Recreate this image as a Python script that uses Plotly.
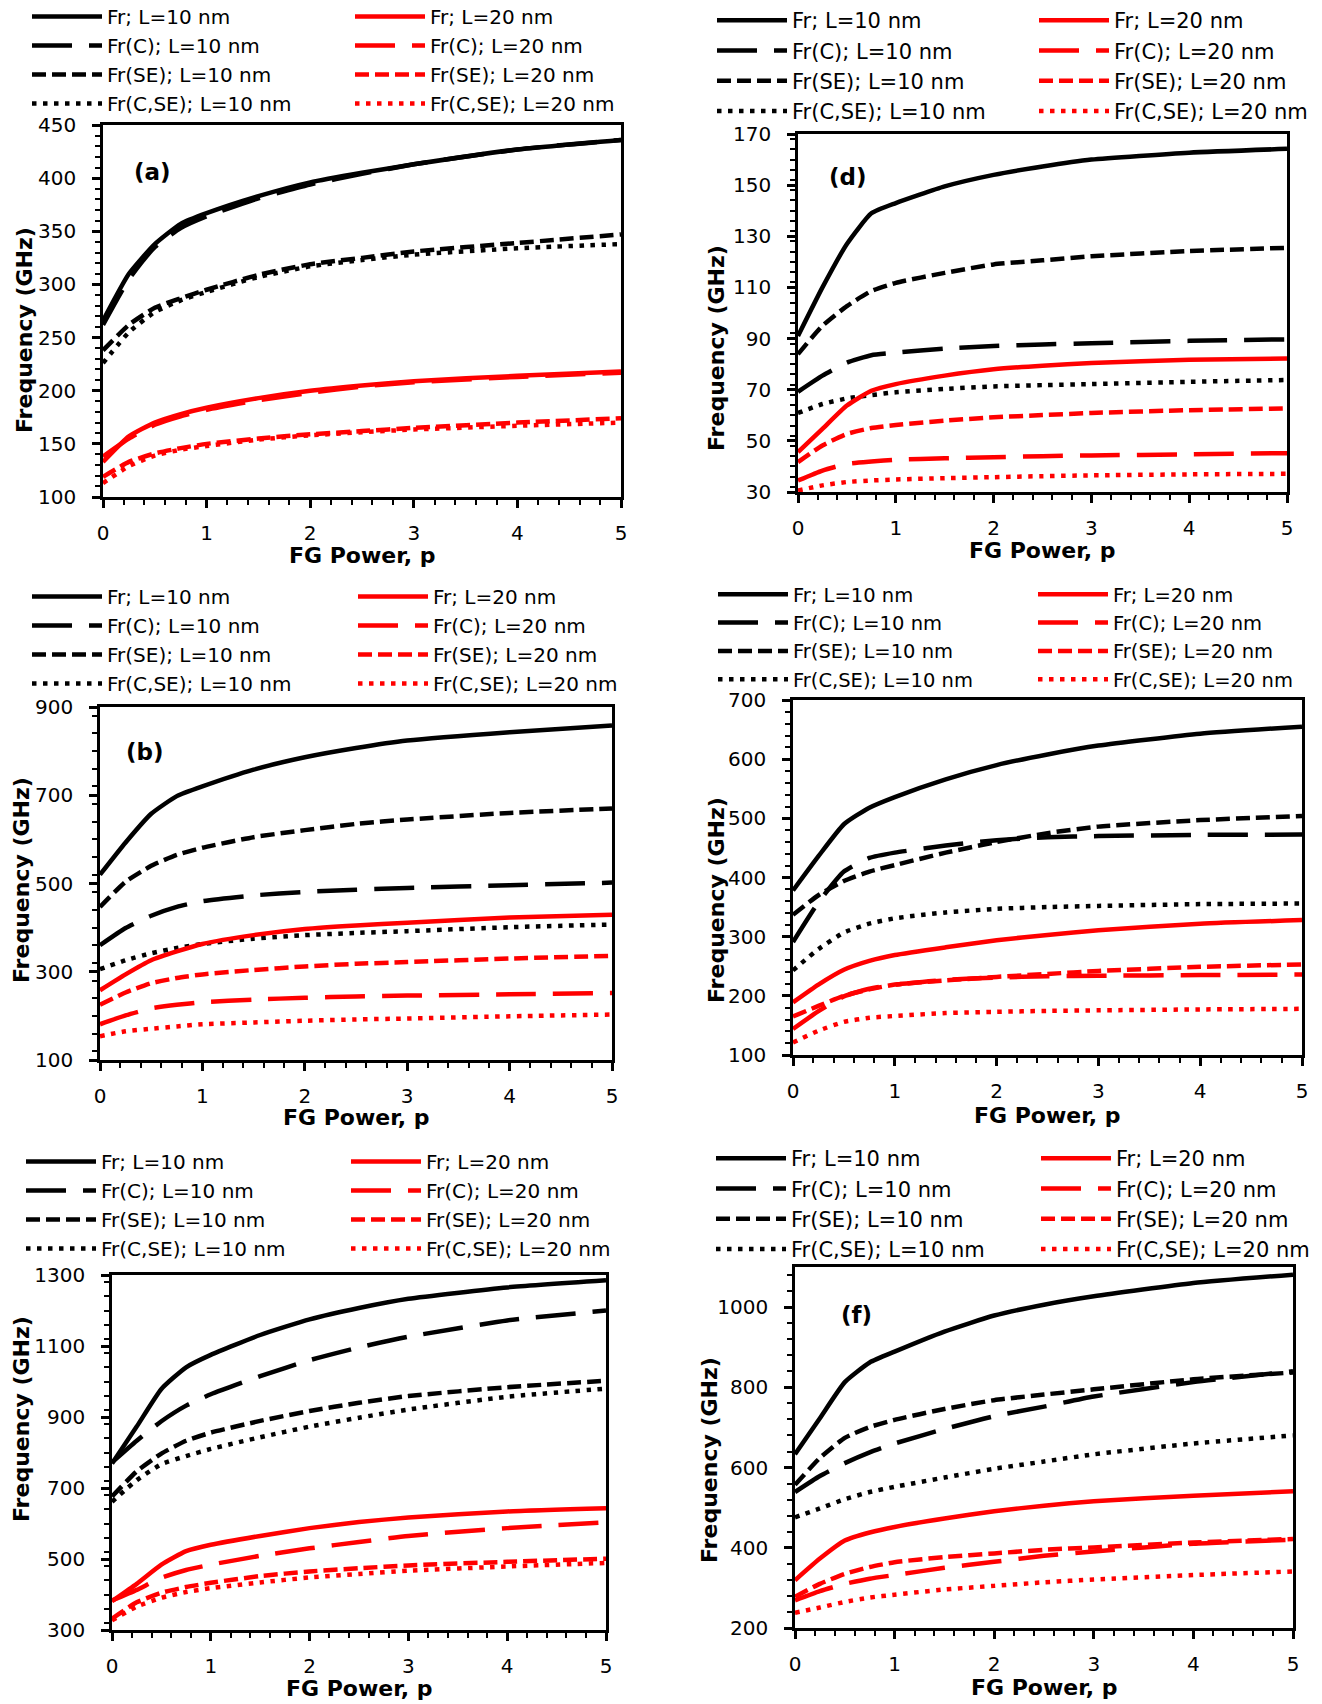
import plotly.graph_objects as go

W, H = 1322, 1704
FONT = "DejaVu Sans, Verdana, sans-serif"

# FG power index values (x)
p_vals = [0, 0.25, 0.5, 0.75, 1, 1.5, 2, 2.5, 3, 4, 5]

series_names = ["Fr", "Fr(C)", "Fr(SE)", "Fr(C,SE)"]
lengths = ["L=10 nm", "L=20 nm"]

# ---- panel (a) ----
a_fr_10 = [266, 310, 338, 357, 367, 383, 396, 405, 413, 427, 436]
a_frc_10 = [262, 305, 335, 353, 364, 381, 394, 404, 413, 427, 436]
a_frse_10 = [238, 262, 278, 287, 295, 309, 319, 325, 331, 339, 347]
a_frcse_10 = [226, 255, 274, 285, 293, 307, 317, 323, 328, 334, 338]
a_fr_20 = [133, 157, 170, 178, 184, 193, 200, 205, 209, 214, 218]
a_frc_20 = [138, 155, 168, 176, 182, 191, 198, 204, 208, 213, 217]
a_frse_20 = [119, 133, 141, 146, 150, 155, 159, 162, 165, 170, 174]
a_frcse_20 = [113, 129, 139, 144.5, 148, 154, 158, 161, 163.5, 167, 170]

# ---- panel (d) ----
d_fr_10 = [91, 110, 127, 139, 143, 149.5, 154, 157.3, 160, 162.7, 164.2]
d_frc_10 = [69.2, 75.5, 80.6, 83.5, 84.5, 86.1, 87.1, 87.7, 88.2, 89.1, 89.7]
d_frse_10 = [83.9, 95, 102.7, 108.6, 111.8, 115.7, 119, 120.6, 122.2, 124.2, 125.5]
d_frcse_10 = [60.9, 64.4, 66.6, 67.9, 69, 70.3, 71.3, 71.8, 72.2, 73.1, 73.8]
d_fr_20 = [45.6, 54.7, 63.8, 69.6, 72.2, 75.5, 78, 79.4, 80.4, 81.7, 82.2]
d_frc_20 = [34.5, 38.4, 41, 41.9, 42.6, 43.2, 43.6, 44, 44.3, 44.7, 45.2]
d_frse_20 = [41.7, 48.2, 52.7, 55, 56.2, 57.9, 59.2, 60.1, 60.9, 62, 62.7]
d_frcse_20 = [30.6, 32.6, 33.9, 34.5, 34.9, 35.4, 35.8, 36.2, 36.5, 36.9, 37.1]

# ---- panel (b) ----
b_fr_10 = [520, 593, 658, 698, 720, 758, 786, 807, 824, 843, 858]
b_frc_10 = [360, 399, 427, 447, 460, 473, 481, 486, 490, 496, 502]
b_frse_10 = [447, 504, 540, 565, 581, 605, 621, 635, 645, 660, 670]
b_frcse_10 = [306, 326, 342, 354, 363, 375, 383, 388, 392, 401, 407]
b_fr_20 = [258, 294, 326, 346, 363, 383, 397, 405, 411, 423, 429]
b_frc_20 = [181, 201, 217, 225, 231, 237, 241, 244, 246, 249, 252]
b_frse_20 = [225, 253, 274, 286, 294, 304, 312, 318, 322, 330, 336]
b_frcse_20 = [154, 165, 171, 176, 181, 185, 189, 192, 194, 199, 203]

# ---- panel (e) (middle right) ----
e_fr_10 = [378, 436, 490, 518, 536, 566, 590, 608, 623, 643, 655]
e_frc_10 = [291, 358, 410, 433, 442, 454, 463, 468, 470, 472, 472.5]
e_frse_10 = [337, 370, 394, 410, 421, 442, 460, 475, 486, 497, 504]
e_frcse_10 = [243, 279, 307, 322, 331, 341, 347, 350, 352, 355, 356]
e_fr_20 = [189, 219, 244, 259, 269, 282, 294, 303, 311, 322, 328]
e_frc_20 = [144, 174, 199, 212, 219, 227, 231, 233, 234, 235, 236]
e_frse_20 = [165, 183, 200, 211, 219, 226, 232, 237, 242, 249, 253]
e_frcse_20 = [121, 141, 156, 163, 166, 171, 173, 174.5, 175.5, 177, 178]

# ---- panel (c) (bottom left) ----
c_fr_10 = [769, 873, 979, 1040, 1075, 1131, 1175, 1207, 1233, 1265, 1285]
c_frc_10 = [772, 833, 888, 932, 964, 1015, 1060, 1096, 1126, 1172, 1200]
c_frse_10 = [676, 747, 797, 833, 856, 889, 917, 940, 959, 984, 1002]
c_frcse_10 = [661, 722, 767, 790, 810, 843, 873, 898, 921, 957, 980]
c_fr_20 = [381, 430, 484, 522, 540, 565, 587, 604, 617, 634, 643]
c_frc_20 = [383, 413, 447, 469, 484, 509, 530, 548, 565, 587, 603]
c_frse_20 = [332, 378, 405, 421, 433, 452, 465, 474, 482, 492, 501]
c_frcse_20 = [327, 366, 391, 407, 418, 434, 448, 458, 467, 479, 489]

# ---- panel (f) ----
f_fr_10 = [633, 723, 813, 862, 889, 939, 979, 1006, 1027, 1060, 1081]
f_frc_10 = [539, 579, 611, 638, 660, 696, 728, 752, 777, 813, 840]
f_frse_10 = [557, 624, 674, 701, 719, 746, 768, 782, 795, 820, 837]
f_frcse_10 = [476, 498, 521, 539, 552, 575, 597, 615, 633, 660, 680]
f_fr_20 = [319, 373, 418, 438, 452, 473, 491, 505, 516, 530, 541]
f_frc_20 = [269, 292, 310, 323, 332, 350, 365, 380, 391, 410, 420]
f_frse_20 = [278, 310, 335, 352, 364, 377, 386, 395, 401, 413, 422]
f_frcse_20 = [238, 251, 265, 276, 283, 296, 305, 314, 321, 332, 341]

# y-axis ranges, major and minor steps
a_yrange, a_dtick, a_minor = [100, 450], 50, 10
d_yrange, d_dtick, d_minor = [30, 170], 20, 4
b_yrange, b_dtick, b_minor = [100, 900], 200, 40
e_yrange, e_dtick, e_minor = [100, 700], 100, 20
c_yrange, c_dtick, c_minor = [300, 1300], 200, 40
f_yrange, f_dtick, f_minor = [200, 1100], 200, 40

panel_labels = {"a": "(a)", "d": "(d)", "b": "(b)", "f": "(f)"}
x_title = "FG Power, p"
y_title = "Frequency (GHz)"

# ---------------- layout geometry (pixels) ----------------
panels = [
    dict(key="a", box=(103, 621, 125, 497),
         data=[a_fr_10, a_frc_10, a_frse_10, a_frcse_10, a_fr_20, a_frc_20, a_frse_20, a_frcse_20],
         y=(a_yrange, a_dtick, a_minor), leg=(29, 352, 16, 20), yt=(25, 330), xt=555, lab=(152, 172)),
    dict(key="d", box=(798, 1287, 134, 492),
         data=[d_fr_10, d_frc_10, d_frse_10, d_frcse_10, d_fr_20, d_frc_20, d_frse_20, d_frcse_20],
         y=(d_yrange, d_dtick, d_minor), leg=(714, 1036, 19, 21), yt=(717, 348), xt=551, lab=(848, 177)),
    dict(key="b", box=(100, 612, 707, 1060),
         data=[b_fr_10, b_frc_10, b_frse_10, b_frcse_10, b_fr_20, b_frc_20, b_frse_20, b_frcse_20],
         y=(b_yrange, b_dtick, b_minor), leg=(29, 355, 596, 20), yt=(21, 880), xt=1117, lab=(145, 752)),
    dict(key="e", box=(793, 1302, 700, 1055),
         data=[e_fr_10, e_frc_10, e_frse_10, e_frcse_10, e_fr_20, e_frc_20, e_frse_20, e_frcse_20],
         y=(e_yrange, e_dtick, e_minor), leg=(715, 1035, 594, 19.5), yt=(717, 900), xt=1115, lab=None),
    dict(key="c", box=(112, 606, 1275, 1630),
         data=[c_fr_10, c_frc_10, c_frse_10, c_frcse_10, c_fr_20, c_frc_20, c_frse_20, c_frcse_20],
         y=(c_yrange, c_dtick, c_minor), leg=(23, 348, 1161, 20), yt=(21, 1419), xt=1688, lab=None),
    dict(key="f", box=(795, 1293, 1267, 1628),
         data=[f_fr_10, f_frc_10, f_frse_10, f_frcse_10, f_fr_20, f_frc_20, f_frse_20, f_frcse_20],
         y=(f_yrange, f_dtick, f_minor), leg=(713, 1038, 1157, 21), yt=(709, 1460), xt=1687, lab=(856, 1315)),
]

colors = ["#000000", "#ff0000"]
dashes = ["solid", "40px,17px", "14px,6px", "4.5px,6.5px"]
LW = 4.5

fig = go.Figure()
layout = dict(
    width=W, height=H, margin=dict(l=0, r=0, t=0, b=0, autoexpand=False),
    paper_bgcolor="white", plot_bgcolor="white",
    font=dict(family=FONT, color="black"),
    annotations=[],
)

legend_count = 0
for i, pnl in enumerate(panels):
    n = i + 1
    xa = "xaxis" if n == 1 else f"xaxis{n}"
    ya = "yaxis" if n == 1 else f"yaxis{n}"
    xr = "x" if n == 1 else f"x{n}"
    yr = "y" if n == 1 else f"y{n}"
    l, r, t, b = pnl["box"]
    yrng, ydt, ymn = pnl["y"]
    blx, rlx, row1, lfs = pnl["leg"]

    leg_ids = []
    for col, lx in enumerate([blx, rlx]):
        legend_count += 1
        lid = "legend" if legend_count == 1 else f"legend{legend_count}"
        leg_ids.append(lid)
        layout[lid] = dict(
            x=(lx - 2) / W, y=1 - (row1 - 19) / H, xanchor="left", yanchor="top",
            orientation="v", bgcolor="rgba(0,0,0,0)", borderwidth=0,
            itemwidth=70, tracegroupgap=0, traceorder="normal",
            font=dict(family=FONT, size=lfs, color="black"),
        )

    for k, ys in enumerate(pnl["data"]):
        col = k // 4
        s = k % 4
        fig.add_trace(go.Scatter(
            x=p_vals, y=ys, mode="lines",
            name=f"{series_names[s]}; {lengths[col]}",
            line=dict(color=colors[col], width=LW, dash=dashes[s], shape="spline", smoothing=0.5),
            xaxis=xr, yaxis=yr, legend=leg_ids[col], showlegend=True,
        ))

    common = dict(showline=True, linewidth=2.5, linecolor="black", mirror=True,
                  ticks="outside", ticklen=8, tickwidth=2.5, tickcolor="black",
                  showgrid=False, zeroline=False, automargin=False,
                  tickfont=dict(family=FONT, size=20, color="black"))
    layout[xa] = dict(common, domain=[l / W, r / W], range=[0, 5], dtick=1, tick0=0,
                      anchor=yr, ticklabelstandoff=8,
                      minor=dict(dtick=0.2, ticks="outside", ticklen=5, tickwidth=2, tickcolor="black"))
    layout[ya] = dict(common, domain=[1 - b / H, 1 - t / H], range=yrng, dtick=ydt, tick0=yrng[0],
                      anchor=xr, ticklabelstandoff=12,
                      minor=dict(dtick=ymn, ticks="outside", ticklen=5, tickwidth=2, tickcolor="black"))

    # axis titles
    layout["annotations"].append(dict(
        text=f"<b>{x_title}</b>", x=(l + r) / 2 / W, y=1 - pnl["xt"] / H, xref="paper", yref="paper",
        xanchor="center", yanchor="middle", showarrow=False,
        font=dict(family=FONT, size=22, color="black")))
    ytx, yty = pnl["yt"]
    layout["annotations"].append(dict(
        text=f"<b>{y_title}</b>", x=ytx / W, y=1 - yty / H, xref="paper", yref="paper",
        xanchor="center", yanchor="middle", showarrow=False, textangle=-90,
        font=dict(family=FONT, size=22, color="black")))
    if pnl["lab"] is not None:
        lx_, ly_ = pnl["lab"]
        layout["annotations"].append(dict(
            text=f"<b>{panel_labels[pnl['key']]}</b>", x=lx_ / W, y=1 - ly_ / H,
            xref="paper", yref="paper", xanchor="center", yanchor="middle", showarrow=False,
            font=dict(family=FONT, size=23, color="black")))

fig.update_layout(**layout)
fig.write_html("out.html")
